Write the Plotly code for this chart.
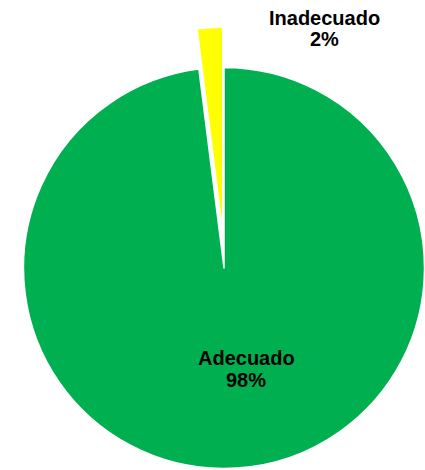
import plotly.graph_objects as go

labels = ["Adecuado", "Inadecuado"]
values = [98, 2]
colors = ["#00B050", "#FFFF00"]
pct_text = ["98%", "2%"]

W, H = 425, 470

def px_dom(cx, cy, r):
    return dict(x=[(cx - r) / W, (cx + r) / W], y=[1 - (cy + r) / H, 1 - (cy - r) / H])

fig = go.Figure()
# main pie (Adecuado), exploded slice left empty
fig.add_trace(go.Pie(
    labels=labels, values=values, sort=False, direction="clockwise", rotation=0,
    marker=dict(colors=[colors[0], "rgba(0,0,0,0)"], line=dict(color="white", width=[1.5, 0])),
    textinfo="none", hoverinfo="skip", showlegend=False,
    domain=px_dom(224, 268, 200.5),
))
# exploded slice (Inadecuado)
fig.add_trace(go.Pie(
    labels=labels, values=values, sort=False, direction="clockwise", rotation=0,
    marker=dict(colors=["rgba(0,0,0,0)", colors[1]], line=dict(color="white", width=[0, 1])),
    textinfo="none", hoverinfo="skip", showlegend=False,
    domain=px_dom(222.5, 228, 200.5),
))

font = dict(family="Liberation Sans, Arial, sans-serif", size=20, color="black")
ann_pos = [(246, 357.5, 380), (324.5, 18, 39.5)]
for lab, pt, (x, y1, y2) in zip(labels, pct_text, ann_pos):
    fig.add_annotation(x=x / W, y=1 - y1 / H, xref="paper", yref="paper",
                       text="<b>" + lab + "</b>", showarrow=False, font=font,
                       xanchor="center", yanchor="middle")
    fig.add_annotation(x=x / W, y=1 - y2 / H, xref="paper", yref="paper",
                       text="<b>" + pt + "</b>", showarrow=False, font=font,
                       xanchor="center", yanchor="middle")

fig.update_layout(width=W, height=H, margin=dict(l=0, r=0, t=0, b=0),
                  paper_bgcolor="white", plot_bgcolor="white")
fig.write_html("out.html", config={"displayModeBar": False},
               post_script="document.body.style.margin='0';document.body.style.overflow='hidden';")
